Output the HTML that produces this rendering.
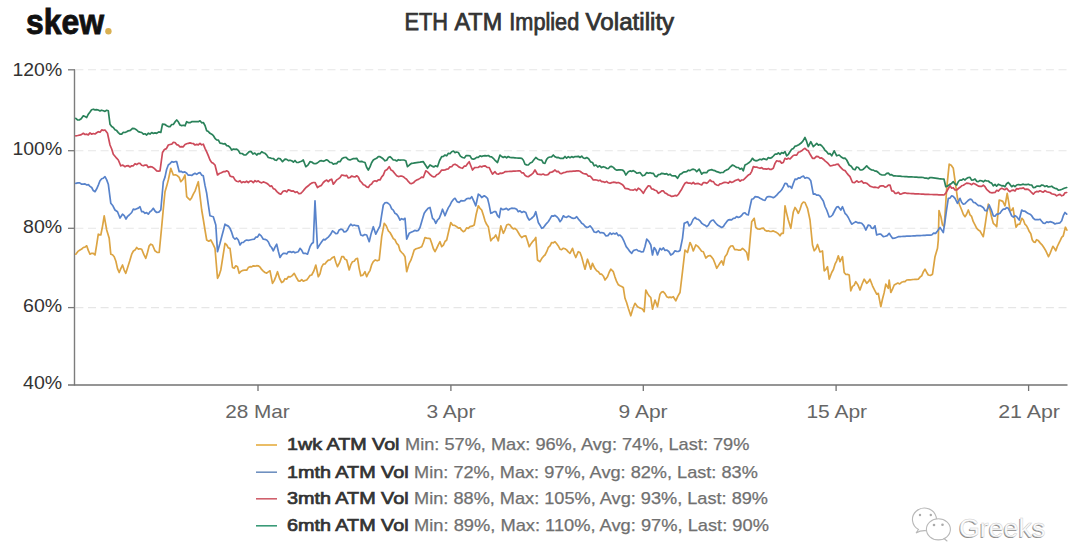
<!DOCTYPE html><html><head><meta charset="utf-8"><style>html,body{margin:0;padding:0;background:#fff;width:1080px;height:543px;overflow:hidden}svg{display:block}text{font-family:"Liberation Sans",sans-serif}</style></head><body>
<svg width="1080" height="543" viewBox="0 0 1080 543">
<rect width="1080" height="543" fill="#fff"/>
<text x="26" y="34" font-size="35" font-weight="700" fill="#111" stroke="#111" stroke-width="0.9" textLength="78" lengthAdjust="spacingAndGlyphs">skew</text>
<circle cx="108.4" cy="31.3" r="3.2" fill="#d9b052"/>
<text x="404.5" y="30" font-size="23" font-weight="400" fill="#333" stroke="#333" stroke-width="0.75" textLength="43.5" lengthAdjust="spacingAndGlyphs">ETH</text>
<text x="454.5" y="30" font-size="23" font-weight="400" fill="#333" stroke="#333" stroke-width="0.75" textLength="47.6" lengthAdjust="spacingAndGlyphs">ATM</text>
<text x="509.3" y="30" font-size="23" font-weight="400" fill="#333" stroke="#333" stroke-width="0.75" textLength="69.9" lengthAdjust="spacingAndGlyphs">Implied</text>
<text x="585.6" y="30" font-size="23" font-weight="400" fill="#333" stroke="#333" stroke-width="0.75" textLength="88.6" lengthAdjust="spacingAndGlyphs">Volatility</text>
<line x1="75" y1="69.8" x2="1067.5" y2="69.8" stroke="#e6e6e6" stroke-width="1.1" stroke-dasharray="8,4.604" stroke-dashoffset="12.2"/>
<line x1="68" y1="69.8" x2="75" y2="69.8" stroke="#7a7a7a" stroke-width="1.3"/>
<line x1="75" y1="150.7" x2="1067.5" y2="150.7" stroke="#e6e6e6" stroke-width="1.1" stroke-dasharray="8,4.604" stroke-dashoffset="12.2"/>
<line x1="68" y1="150.7" x2="75" y2="150.7" stroke="#7a7a7a" stroke-width="1.3"/>
<line x1="75" y1="228.3" x2="1067.5" y2="228.3" stroke="#e6e6e6" stroke-width="1.1" stroke-dasharray="8,4.604" stroke-dashoffset="12.2"/>
<line x1="68" y1="228.3" x2="75" y2="228.3" stroke="#7a7a7a" stroke-width="1.3"/>
<line x1="75" y1="307.6" x2="1067.5" y2="307.6" stroke="#e6e6e6" stroke-width="1.1" stroke-dasharray="8,4.604" stroke-dashoffset="12.2"/>
<line x1="68" y1="307.6" x2="75" y2="307.6" stroke="#7a7a7a" stroke-width="1.3"/>
<line x1="74.5" y1="69.5" x2="74.5" y2="385.5" stroke="#7c7c7c" stroke-width="1.4"/>
<line x1="68" y1="385" x2="1067.5" y2="385" stroke="#727272" stroke-width="1.5"/>
<line x1="258" y1="385" x2="258" y2="391" stroke="#727272" stroke-width="1.3"/>
<text x="225.2" y="417.8" font-size="18.5" fill="#666" textLength="64.6" lengthAdjust="spacingAndGlyphs">28 Mar</text>
<line x1="450.9" y1="385" x2="450.9" y2="391" stroke="#727272" stroke-width="1.3"/>
<text x="426.4" y="417.8" font-size="18.5" fill="#666" textLength="49.0" lengthAdjust="spacingAndGlyphs">3 Apr</text>
<line x1="643.3" y1="385" x2="643.3" y2="391" stroke="#727272" stroke-width="1.3"/>
<text x="618.6" y="417.8" font-size="18.5" fill="#666" textLength="49.0" lengthAdjust="spacingAndGlyphs">9 Apr</text>
<line x1="836.1" y1="385" x2="836.1" y2="391" stroke="#727272" stroke-width="1.3"/>
<text x="806.4" y="417.8" font-size="18.5" fill="#666" textLength="60.7" lengthAdjust="spacingAndGlyphs">15 Apr</text>
<line x1="1028.6" y1="385" x2="1028.6" y2="391" stroke="#727272" stroke-width="1.3"/>
<text x="998.2" y="417.8" font-size="18.5" fill="#666" textLength="61.8" lengthAdjust="spacingAndGlyphs">21 Apr</text>
<text x="12.5" y="75.8" font-size="18.3" fill="#333" textLength="49.7" lengthAdjust="spacingAndGlyphs">120%</text>
<text x="12.5" y="155.0" font-size="18.3" fill="#333" textLength="49.7" lengthAdjust="spacingAndGlyphs">100%</text>
<text x="23.1" y="232.6" font-size="18.3" fill="#333" textLength="39.1" lengthAdjust="spacingAndGlyphs">80%</text>
<text x="23.1" y="311.6" font-size="18.3" fill="#333" textLength="39.1" lengthAdjust="spacingAndGlyphs">60%</text>
<text x="23.1" y="389.2" font-size="18.3" fill="#333" textLength="39.1" lengthAdjust="spacingAndGlyphs">40%</text>
<path d="M75.8 254.2 L77.9 251.4 L80.0 250.0 L81.7 249.1 L83.3 247.5 L85.0 247.1 L86.7 245.8 L88.3 250.4 L90.0 254.2 L91.7 253.3 L93.3 253.4 L95.0 255.0 L96.7 244.6 L98.3 234.2 L100.8 235.0 L102.5 226.3 L104.2 215.8 L106.7 230.0 L109.2 238.3 L110.8 254.2 L112.5 254.8 L114.2 256.7 L115.9 261.2 L117.5 268.6 L119.2 272.5 L120.8 268.7 L122.5 265.0 L124.2 270.1 L125.8 273.3 L127.8 266.9 L129.7 261.0 L131.7 254.2 L133.4 251.0 L135.0 250.1 L136.7 247.5 L138.4 249.1 L140.0 248.7 L141.7 249.2 L143.8 254.4 L145.8 258.3 L147.5 252.5 L149.2 245.8 L150.8 244.2 L152.5 245.0 L155.0 250.8 L157.1 252.4 L159.2 252.5 L161.7 226.7 L163.3 209.2 L165.0 191.7 L166.7 186.1 L168.3 180.0 L170.8 168.3 L173.3 175.0 L175.4 174.8 L177.5 175.8 L179.2 177.4 L180.8 181.7 L182.9 179.4 L185.0 175.0 L186.7 196.7 L188.3 198.3 L190.0 200.0 L191.7 197.7 L193.3 194.2 L195.0 191.1 L196.6 186.5 L198.3 181.7 L200.0 195.8 L201.7 210.0 L203.4 220.0 L205.0 230.0 L206.7 240.0 L208.8 241.2 L210.8 240.0 L212.9 243.9 L215.0 248.3 L217.5 278.3 L219.2 275.0 L220.8 270.0 L222.9 256.6 L225.0 243.3 L226.7 244.8 L228.3 247.9 L230.0 248.3 L232.5 267.5 L234.2 268.3 L235.8 265.8 L237.5 266.7 L239.2 273.3 L241.1 271.2 L243.1 270.3 L245.0 270.0 L246.7 270.2 L248.3 267.6 L250.0 266.7 L251.7 266.9 L253.3 265.8 L255.0 266.2 L256.6 265.7 L258.3 265.8 L260.0 267.1 L261.6 269.4 L263.3 271.1 L265.0 272.5 L266.7 273.1 L268.3 271.9 L270.0 270.8 L272.5 283.3 L274.2 280.6 L275.8 276.6 L277.5 271.7 L279.6 278.5 L281.7 282.5 L283.4 281.5 L285.0 278.7 L286.6 279.2 L288.3 276.7 L290.3 276.9 L292.2 275.6 L294.2 273.3 L296.2 277.2 L298.3 280.8 L300.0 281.2 L301.7 279.7 L303.3 281.2 L305.0 280.4 L306.7 280.0 L308.4 277.7 L310.0 275.4 L311.7 275.0 L313.8 271.0 L315.8 265.0 L318.3 276.7 L320.0 273.9 L321.6 267.2 L323.3 264.2 L325.0 264.0 L326.6 261.8 L328.3 260.1 L330.0 260.0 L332.1 257.8 L334.2 256.7 L335.9 262.5 L337.5 266.7 L339.6 262.7 L341.7 256.7 L343.4 256.5 L345.0 259.2 L346.7 260.0 L349.2 270.0 L350.9 264.6 L352.5 261.7 L354.2 261.2 L355.8 259.0 L357.5 258.3 L359.1 268.1 L360.8 275.8 L362.9 275.1 L365.0 271.7 L366.7 276.7 L368.4 273.0 L370.0 270.6 L371.6 264.9 L373.3 261.7 L375.3 259.9 L377.2 260.8 L379.2 260.0 L381.7 236.7 L384.2 223.3 L386.2 225.7 L388.3 230.8 L390.0 232.5 L391.7 235.5 L393.3 238.6 L395.0 239.8 L396.7 243.3 L398.4 245.1 L400.0 250.5 L401.7 252.5 L403.4 254.1 L405.0 256.7 L406.7 271.7 L409.2 263.3 L410.9 260.2 L412.5 255.5 L414.2 250.0 L416.1 248.8 L417.9 248.2 L419.8 247.6 L421.7 246.7 L423.4 242.5 L425.0 237.5 L426.7 238.1 L428.3 238.3 L430.0 238.5 L431.7 243.2 L433.3 248.5 L435.0 251.7 L436.7 248.4 L438.3 244.8 L440.0 241.7 L441.7 246.7 L443.4 245.1 L445.0 241.5 L446.7 240.0 L448.8 230.7 L450.8 222.5 L452.8 225.2 L454.7 225.4 L456.7 226.7 L458.4 228.1 L460.0 227.8 L461.6 230.2 L463.3 231.7 L465.0 230.7 L466.6 227.9 L468.3 228.3 L470.0 226.7 L472.1 226.2 L474.2 225.0 L476.2 214.2 L478.3 205.8 L480.0 208.3 L481.7 210.0 L483.4 215.3 L485.0 220.8 L486.6 224.3 L488.3 226.7 L490.8 240.8 L492.5 238.5 L494.1 237.5 L495.8 235.0 L498.3 240.8 L500.8 225.8 L503.3 233.3 L505.0 229.8 L506.7 225.0 L508.4 224.3 L510.0 225.1 L511.7 227.5 L513.3 228.9 L515.0 228.3 L516.7 229.9 L518.4 232.8 L520.0 235.5 L521.7 237.5 L523.8 236.1 L525.8 235.8 L527.5 240.9 L529.2 246.7 L530.9 243.9 L532.5 241.7 L534.1 240.1 L535.8 237.5 L537.5 260.0 L540.0 261.7 L541.7 258.6 L543.4 256.4 L545.0 255.0 L546.7 251.7 L548.4 247.3 L550.0 245.8 L551.7 242.5 L553.4 242.8 L555.0 241.7 L556.7 243.7 L558.3 245.9 L560.0 249.2 L561.6 249.6 L563.3 248.3 L565.0 248.8 L566.6 249.9 L568.3 251.9 L570.0 253.3 L572.5 248.3 L574.1 253.5 L575.8 257.5 L578.3 251.7 L580.0 252.5 L581.7 257.0 L583.3 263.1 L585.0 269.2 L587.5 259.2 L589.1 263.7 L590.8 269.2 L592.5 263.3 L594.6 268.0 L596.7 270.8 L598.4 271.8 L600.0 274.1 L601.7 274.2 L603.4 276.2 L605.0 280.0 L607.5 276.7 L609.1 272.5 L610.8 269.2 L613.3 271.7 L615.0 277.1 L616.7 281.7 L618.4 284.8 L620.0 285.8 L621.6 286.5 L623.3 287.5 L625.0 298.3 L626.6 302.5 L628.3 308.3 L630.8 315.8 L632.9 308.5 L635.0 303.3 L637.5 306.7 L639.1 307.6 L640.8 308.3 L642.5 309.1 L644.2 311.7 L645.8 290.0 L647.5 293.4 L649.1 295.9 L650.8 297.5 L652.5 309.2 L655.0 300.0 L657.5 306.7 L660.0 294.2 L661.6 292.1 L663.3 291.7 L665.0 293.6 L666.7 296.7 L668.4 297.6 L670.0 297.1 L671.6 297.6 L673.3 296.7 L675.8 300.8 L677.9 296.2 L680.0 292.5 L682.5 271.7 L685.0 250.0 L687.5 252.5 L690.0 242.5 L691.6 245.7 L693.3 251.0 L695.8 245.0 L697.9 246.4 L700.0 249.0 L701.6 251.2 L703.3 251.7 L705.8 258.0 L707.9 256.1 L710.0 255.5 L711.6 256.9 L713.3 259.2 L715.0 263.5 L716.7 268.3 L718.4 265.6 L720.0 263.0 L721.7 260.8 L723.3 265.0 L725.0 256.7 L726.9 254.3 L728.9 248.6 L730.8 246.0 L732.8 245.8 L734.7 249.6 L736.7 249.5 L738.6 250.2 L740.6 250.1 L742.5 248.3 L744.6 250.2 L746.7 252.5 L748.3 260.0 L750.0 240.8 L751.7 221.7 L754.2 218.3 L755.8 227.5 L757.8 229.0 L759.7 229.2 L761.7 228.3 L763.4 228.1 L765.0 230.2 L766.6 231.1 L768.3 230.8 L770.0 231.5 L771.6 231.3 L773.3 230.9 L775.0 231.7 L776.7 232.6 L778.3 233.7 L780.0 235.8 L781.6 233.3 L783.3 233.3 L785.0 205.8 L786.6 213.1 L788.3 220.0 L790.8 228.3 L793.3 212.0 L795.0 207.5 L796.6 209.8 L798.3 213.3 L800.0 209.5 L801.7 204.0 L803.4 202.0 L805.0 202.5 L807.5 208.3 L810.0 220.0 L812.5 245.0 L814.2 250.8 L815.9 248.8 L817.5 244.5 L820.0 252.0 L822.5 251.0 L824.2 270.8 L825.9 269.3 L827.5 266.7 L829.2 279.2 L831.7 272.5 L833.4 269.5 L835.0 264.2 L836.6 261.1 L838.3 255.8 L840.0 261.7 L842.5 256.7 L844.2 272.5 L845.9 274.5 L847.5 274.4 L849.2 275.0 L850.8 290.8 L852.5 286.4 L854.1 285.4 L855.8 281.7 L857.9 284.9 L860.0 290.0 L862.1 284.0 L864.2 279.2 L866.7 283.3 L868.4 281.7 L870.0 279.2 L872.5 285.8 L874.6 290.1 L876.7 294.2 L878.3 293.3 L880.8 306.7 L882.5 299.0 L884.1 292.9 L885.8 284.2 L888.3 288.3 L889.2 280.0 L890.8 292.5 L892.5 289.1 L894.2 285.0 L896.0 283.9 L897.8 283.0 L899.7 284.0 L901.5 282.3 L903.3 281.7 L905.0 281.6 L906.7 280.0 L908.4 279.9 L910.0 279.8 L911.7 279.7 L913.3 279.5 L915.0 279.4 L916.6 279.3 L918.3 279.2 L920.0 277.1 L921.7 275.8 L923.4 271.7 L925.0 269.2 L926.6 272.2 L928.3 275.0 L930.4 275.5 L932.5 274.2 L935.0 256.7 L937.5 248.3 L938.3 240.0 L939.0 210.5 L941.0 217.0 L942.5 225.0 L944.2 226.7 L946.7 188.3 L949.2 164.2 L951.2 165.3 L953.3 168.3 L955.4 183.3 L957.5 198.3 L959.6 205.0 L961.7 210.0 L963.4 214.5 L965.0 216.7 L966.6 214.2 L968.3 210.0 L970.0 214.8 L971.6 216.4 L973.3 221.7 L975.0 224.8 L976.6 228.2 L978.3 230.0 L980.0 231.0 L981.6 233.8 L983.3 236.7 L985.0 225.9 L986.6 215.0 L988.3 204.2 L990.0 209.9 L991.6 217.0 L993.3 223.3 L995.0 224.8 L996.7 226.7 L999.2 200.0 L1001.0 200.6 L1002.8 201.4 L1005.0 205.8 L1007.2 193.3 L1008.7 202.2 L1010.1 211.0 L1011.6 210.3 L1013.1 208.0 L1014.5 217.6 L1016.0 227.2 L1017.9 224.3 L1019.7 224.2 L1021.9 218.3 L1023.4 220.0 L1024.9 224.2 L1026.4 225.6 L1027.8 228.1 L1029.3 231.6 L1030.8 233.8 L1032.2 239.8 L1033.7 241.9 L1035.2 242.4 L1036.6 239.7 L1038.1 240.4 L1040.1 242.9 L1042.0 244.8 L1044.0 247.8 L1045.5 250.2 L1047.0 253.3 L1048.5 256.7 L1050.0 253.6 L1051.4 250.0 L1052.9 246.3 L1054.3 248.2 L1055.8 250.8 L1057.3 246.5 L1058.8 243.4 L1060.3 240.4 L1061.8 237.1 L1063.2 236.0 L1065.4 227.2 L1066.9 230.1" fill="none" stroke="#dca443" stroke-width="1.7" stroke-linejoin="round" stroke-linecap="round"/>
<path d="M75.8 183.3 L77.8 182.9 L79.7 182.9 L81.7 184.2 L83.4 184.2 L85.0 183.9 L86.7 185.0 L88.4 184.7 L90.0 186.4 L91.7 187.5 L93.3 190.6 L95.0 191.7 L96.7 188.8 L98.3 185.1 L100.0 180.8 L101.7 178.7 L103.3 178.2 L105.0 176.7 L106.7 179.9 L108.3 184.2 L110.8 203.3 L112.9 205.8 L115.0 210.0 L117.5 211.7 L120.0 218.0 L122.5 214.2 L124.2 215.6 L126.0 219.0 L127.6 216.3 L129.2 215.0 L131.7 212.5 L133.3 209.2 L135.0 209.6 L136.7 208.8 L138.3 208.1 L140.0 206.7 L141.7 211.7 L143.3 211.7 L145.0 213.3 L146.6 212.6 L148.3 214.2 L150.0 211.8 L151.6 210.6 L153.3 208.3 L155.0 211.0 L156.7 212.5 L158.8 212.1 L160.8 210.0 L163.3 181.7 L165.0 177.1 L166.6 169.5 L168.3 165.0 L170.0 163.6 L171.7 161.7 L173.4 162.1 L175.0 161.7 L176.7 161.7 L179.2 171.7 L181.1 171.3 L182.9 172.4 L184.8 171.9 L186.7 173.3 L188.3 175.2 L190.0 175.0 L191.7 175.5 L193.3 174.3 L195.0 173.3 L196.7 174.4 L198.3 173.1 L200.0 172.5 L201.7 175.1 L203.3 175.8 L205.0 185.4 L206.7 193.3 L208.3 204.6 L210.0 215.8 L211.7 216.3 L213.3 216.7 L215.8 225.0 L217.5 251.7 L220.0 243.3 L221.7 236.7 L223.3 230.8 L225.0 224.2 L226.7 225.4 L228.3 226.1 L230.0 228.3 L231.7 232.4 L233.3 237.5 L235.0 239.1 L236.6 238.0 L238.3 240.0 L240.0 245.0 L241.7 242.5 L243.3 242.5 L245.0 240.8 L246.7 240.0 L248.3 240.4 L250.0 240.0 L252.1 239.5 L254.2 239.2 L255.9 237.1 L257.5 237.1 L259.2 234.2 L261.2 235.9 L263.3 239.2 L265.0 239.4 L266.7 240.0 L268.4 242.0 L270.0 245.7 L271.6 247.5 L273.3 250.8 L275.0 247.1 L276.7 244.2 L278.4 251.5 L280.0 257.5 L281.6 255.0 L283.3 253.3 L285.0 253.3 L286.7 254.0 L288.3 251.8 L290.0 251.6 L291.7 252.5 L293.4 251.6 L295.0 252.8 L296.6 252.2 L298.3 251.7 L300.0 248.3 L301.6 250.1 L303.3 253.3 L305.4 253.3 L307.5 254.2 L310.0 246.7 L311.6 243.8 L313.3 242.5 L315.0 200.8 L317.5 248.3 L319.6 244.9 L321.7 241.7 L323.4 239.4 L325.0 239.9 L326.7 238.3 L328.6 236.8 L330.6 234.4 L332.5 230.8 L334.2 232.2 L335.8 233.6 L337.5 233.3 L339.1 230.0 L340.8 229.2 L342.5 229.5 L344.1 232.0 L345.8 231.7 L347.5 229.9 L349.1 226.5 L350.8 224.2 L352.5 225.7 L354.2 225.0 L356.2 225.7 L358.3 225.8 L360.8 235.0 L362.8 235.8 L364.7 234.5 L366.7 235.0 L369.2 241.7 L371.2 233.4 L373.3 226.7 L375.8 234.2 L377.9 229.9 L380.0 225.8 L381.6 215.4 L383.3 205.0 L385.0 202.8 L386.7 202.5 L388.4 203.5 L390.0 205.0 L391.7 208.9 L393.3 210.1 L395.0 213.3 L396.7 214.3 L398.3 216.6 L400.0 220.0 L401.7 218.6 L403.3 219.6 L405.0 218.3 L406.7 239.2 L409.2 233.3 L411.1 232.3 L412.9 231.5 L414.8 230.4 L416.7 230.8 L418.4 230.4 L420.0 227.5 L422.1 220.2 L424.2 213.3 L426.1 210.6 L428.1 208.3 L430.0 207.5 L432.5 218.3 L434.1 219.7 L435.8 223.3 L437.5 220.0 L439.2 218.3 L440.9 214.2 L442.5 209.2 L445.0 215.8 L446.7 211.4 L448.4 207.6 L450.0 205.2 L451.7 201.7 L453.4 199.4 L455.0 198.3 L457.1 201.6 L459.2 202.5 L461.0 200.7 L462.8 200.9 L464.7 200.7 L466.5 198.9 L468.3 198.3 L470.0 198.7 L471.7 196.7 L473.8 201.2 L475.8 205.8 L478.3 194.2 L480.0 195.2 L481.7 197.5 L484.2 195.8 L485.9 196.8 L487.5 198.3 L489.1 204.6 L490.8 213.3 L492.5 212.6 L494.1 211.6 L495.8 211.7 L497.5 215.6 L499.2 217.5 L500.8 208.3 L502.7 209.6 L504.6 209.1 L506.4 208.4 L508.3 210.0 L510.0 208.8 L511.6 208.2 L513.3 208.3 L515.0 208.4 L516.7 209.3 L518.3 211.7 L520.0 210.8 L521.7 212.5 L523.8 211.4 L525.8 212.5 L527.5 217.3 L529.2 220.0 L530.9 218.9 L532.5 217.5 L534.1 215.8 L535.8 211.7 L538.3 222.5 L540.0 225.2 L541.7 228.3 L543.4 227.6 L545.0 225.4 L546.7 223.3 L548.4 221.5 L550.0 218.9 L551.7 215.8 L553.4 216.1 L555.0 215.4 L556.7 216.7 L558.4 218.5 L560.0 221.7 L561.6 219.7 L563.3 215.8 L565.0 217.0 L566.6 217.3 L568.3 216.1 L570.0 216.7 L571.6 217.9 L573.3 218.3 L575.0 218.2 L576.7 216.7 L578.4 219.1 L580.0 220.8 L581.7 223.3 L583.4 224.2 L585.0 226.2 L586.7 227.5 L588.4 227.1 L590.0 225.8 L592.1 228.3 L594.2 232.0 L596.2 232.5 L598.3 230.8 L600.0 232.8 L601.7 232.5 L603.8 233.1 L605.8 235.8 L607.9 235.6 L610.0 233.0 L611.6 234.3 L613.3 233.3 L615.0 234.1 L616.6 233.0 L618.3 235.6 L620.0 235.0 L622.1 237.4 L624.2 241.7 L626.2 246.6 L628.3 249.2 L630.0 251.7 L631.7 253.3 L633.4 250.6 L635.0 250.0 L636.7 249.5 L638.3 251.0 L640.0 251.2 L641.6 252.0 L643.3 251.7 L645.0 246.5 L646.7 239.2 L648.8 241.4 L650.8 245.0 L652.5 255.0 L654.2 247.5 L655.9 250.0 L657.5 255.0 L660.0 248.3 L661.7 249.8 L663.4 247.9 L665.0 250.5 L666.7 250.0 L668.8 251.5 L670.8 255.0 L672.9 253.7 L675.0 250.8 L676.7 251.4 L678.3 251.5 L680.0 250.5 L682.5 238.3 L684.2 223.3 L685.9 222.6 L687.5 221.7 L689.2 225.8 L691.1 224.0 L693.1 219.5 L695.0 217.5 L696.7 219.0 L698.3 219.3 L700.0 220.8 L701.7 223.3 L703.4 224.4 L705.0 225.2 L706.7 226.7 L708.4 225.1 L710.0 222.2 L711.6 220.5 L713.3 220.0 L715.4 222.7 L717.5 225.0 L719.6 226.2 L721.7 227.5 L723.4 226.5 L725.0 223.9 L726.7 221.7 L728.4 219.9 L730.0 219.7 L731.6 219.8 L733.3 218.3 L735.0 218.1 L736.6 216.5 L738.3 217.5 L740.0 216.9 L741.6 215.5 L743.3 213.3 L745.0 212.8 L746.6 214.5 L748.3 215.0 L750.0 206.8 L751.7 199.2 L753.4 198.7 L755.0 196.7 L756.7 196.8 L758.3 197.1 L760.0 198.3 L761.6 199.1 L763.3 200.0 L765.0 200.3 L766.6 197.3 L768.3 196.6 L770.0 196.7 L771.7 197.0 L773.3 197.7 L775.0 196.7 L776.7 195.1 L778.3 193.2 L780.0 191.7 L781.7 189.8 L783.3 186.8 L785.0 183.3 L786.7 183.5 L788.4 186.8 L790.0 186.3 L791.7 188.3 L793.4 183.3 L795.0 179.2 L796.7 179.4 L798.4 177.8 L800.0 178.1 L801.7 176.7 L803.4 176.1 L805.0 178.2 L806.7 177.5 L808.8 178.3 L810.8 180.8 L813.3 194.2 L815.0 193.8 L816.6 195.1 L818.3 195.1 L820.0 196.0 L821.6 198.6 L823.3 201.0 L825.0 206.5 L826.7 210.0 L829.2 217.0 L830.9 216.5 L832.5 215.0 L835.0 210.0 L836.6 207.1 L838.3 206.7 L840.8 210.0 L842.5 206.7 L845.0 213.3 L846.6 214.9 L848.3 217.5 L850.0 221.0 L851.7 224.2 L853.8 222.9 L855.8 221.7 L857.8 222.8 L859.7 222.7 L861.7 223.3 L863.8 225.6 L865.8 230.0 L868.3 225.0 L870.0 225.5 L871.6 228.1 L873.3 228.3 L875.0 225.8 L876.7 235.0 L878.8 234.2 L880.8 234.2 L883.3 236.7 L885.3 236.2 L887.2 235.6 L889.2 233.3 L890.9 236.1 L892.5 238.3 L894.4 238.2 L896.4 237.5 L898.3 236.7 L900.0 236.6 L901.6 236.5 L903.3 236.4 L905.0 236.3 L906.6 236.2 L908.3 236.2 L910.0 236.1 L911.7 236.0 L913.3 235.9 L915.0 235.8 L916.7 235.7 L918.3 235.6 L920.0 235.6 L921.7 235.5 L923.4 235.4 L925.0 235.3 L926.7 235.2 L928.4 235.2 L930.0 235.1 L931.7 235.0 L933.6 233.2 L935.6 233.4 L937.5 231.0 L940.0 227.5 L941.6 229.9 L943.3 232.5 L945.0 221.1 L946.6 209.7 L948.3 198.3 L950.0 198.1 L951.7 195.8 L953.4 196.6 L955.0 198.3 L957.5 203.3 L960.0 198.3 L961.6 202.2 L963.3 204.2 L965.0 203.7 L966.6 202.0 L968.3 200.3 L970.0 199.2 L971.7 199.6 L973.4 202.4 L975.0 202.6 L976.7 204.2 L978.4 205.7 L980.0 205.5 L981.7 206.5 L983.4 207.7 L985.0 210.5 L986.7 210.8 L989.2 205.0 L991.2 209.6 L993.3 215.8 L995.0 216.2 L996.6 214.2 L998.3 214.1 L1000.0 213.3 L1001.6 210.9 L1003.3 209.2 L1005.0 209.2 L1006.6 207.6 L1008.3 208.3 L1010.0 211.8 L1011.7 215.8 L1013.4 217.2 L1015.0 215.6 L1016.7 216.7 L1019.2 220.0 L1021.7 210.0 L1023.4 211.2 L1025.0 211.2 L1026.7 212.5 L1028.3 213.5 L1030.0 214.2 L1031.7 215.7 L1033.3 218.3 L1035.0 219.6 L1036.7 219.6 L1038.3 219.7 L1040.0 219.2 L1041.7 221.3 L1043.3 223.1 L1045.0 223.3 L1046.7 221.9 L1048.3 222.4 L1050.0 221.7 L1051.7 222.1 L1053.3 222.7 L1055.0 224.0 L1056.7 223.3 L1058.4 223.1 L1060.0 222.8 L1061.7 220.8 L1063.3 215.7 L1065.0 212.5 L1066.7 214.2" fill="none" stroke="#5883cb" stroke-width="1.7" stroke-linejoin="round" stroke-linecap="round"/>
<path d="M75.8 135.8 L77.7 135.5 L79.5 135.1 L81.4 134.6 L83.3 133.3 L85.0 134.5 L86.7 134.2 L88.3 134.9 L90.0 132.9 L91.7 134.2 L93.3 133.5 L95.0 134.0 L96.7 132.7 L98.3 131.7 L100.0 132.2 L101.7 129.9 L103.3 130.4 L105.0 130.0 L107.5 133.3 L110.0 145.0 L111.7 149.0 L113.3 154.2 L115.0 156.2 L116.6 158.2 L118.3 160.0 L120.8 165.8 L122.9 165.1 L125.0 166.7 L126.7 165.8 L128.3 165.7 L130.0 167.0 L131.7 165.8 L133.3 165.8 L135.0 163.7 L136.7 164.6 L138.3 163.3 L140.0 163.3 L141.6 165.2 L143.3 165.8 L145.0 165.1 L146.7 165.1 L148.3 167.4 L150.0 166.7 L151.7 166.8 L153.3 167.7 L155.0 169.2 L156.7 170.9 L158.3 171.2 L160.0 170.8 L162.5 152.5 L164.4 149.5 L166.4 148.6 L168.3 145.0 L170.0 144.5 L171.7 144.2 L173.3 142.4 L175.0 142.5 L176.7 144.6 L178.3 145.1 L180.0 146.8 L181.7 146.7 L183.3 146.8 L185.0 144.5 L186.7 143.8 L188.3 143.3 L190.0 142.9 L191.7 143.3 L193.3 143.5 L195.0 145.0 L196.7 144.4 L198.3 144.9 L200.0 143.3 L201.6 144.8 L203.3 144.2 L205.0 148.3 L206.7 151.8 L208.3 155.6 L210.0 160.0 L211.7 162.4 L213.3 163.3 L215.0 165.0 L217.5 175.0 L219.4 173.5 L221.4 172.8 L223.3 171.7 L225.0 171.7 L226.7 170.8 L228.4 171.7 L230.0 175.9 L231.7 176.7 L233.3 176.8 L235.0 179.8 L236.7 181.3 L238.3 181.7 L240.0 180.7 L241.6 182.7 L243.3 181.8 L245.0 182.4 L246.6 181.2 L248.3 182.5 L250.0 181.1 L251.6 181.2 L253.3 182.7 L255.0 180.6 L256.6 181.7 L258.3 180.8 L260.0 182.3 L261.7 182.9 L263.3 181.9 L265.0 182.5 L266.7 183.3 L268.4 184.5 L270.0 186.3 L271.7 185.9 L273.3 188.6 L275.0 189.2 L276.9 191.6 L278.9 193.4 L280.8 194.2 L282.9 191.4 L285.0 190.8 L286.7 191.9 L288.3 189.8 L290.0 190.4 L291.6 191.1 L293.3 190.8 L295.2 192.4 L297.1 191.7 L298.9 193.7 L300.8 193.3 L302.7 191.5 L304.6 189.1 L306.4 187.2 L308.3 185.8 L310.0 184.2 L311.6 183.1 L313.3 182.5 L315.0 182.5 L317.5 187.5 L319.4 186.3 L321.4 185.4 L323.3 182.5 L325.0 181.0 L326.7 180.1 L328.3 181.7 L330.0 179.9 L331.7 179.2 L333.3 184.2 L335.0 182.1 L336.7 179.9 L338.3 178.9 L340.0 177.6 L341.7 175.0 L343.4 175.4 L345.0 175.8 L346.7 175.4 L348.3 178.0 L350.0 177.5 L351.7 176.0 L353.4 176.6 L355.0 177.0 L356.7 175.8 L358.4 177.1 L360.0 180.8 L361.7 182.5 L363.4 184.8 L365.0 185.3 L366.6 186.9 L368.3 187.5 L370.0 184.9 L371.6 184.0 L373.3 181.6 L375.0 180.8 L376.7 181.4 L378.3 179.8 L380.0 180.0 L381.7 176.8 L383.3 175.1 L385.0 170.8 L387.1 169.6 L389.2 166.7 L391.1 170.1 L392.9 171.1 L394.8 173.5 L396.7 175.8 L398.4 176.6 L400.0 176.2 L401.6 176.0 L403.3 176.7 L405.0 178.1 L406.6 179.2 L408.3 181.4 L410.0 183.3 L411.7 183.6 L413.4 182.8 L415.0 181.1 L416.7 180.0 L418.4 179.4 L420.0 178.4 L421.6 177.1 L423.3 177.5 L425.8 170.8 L427.9 172.1 L430.0 174.5 L431.7 175.9 L433.3 176.8 L435.0 176.7 L436.7 174.7 L438.4 174.0 L440.0 172.3 L441.7 170.0 L443.4 170.2 L445.0 169.9 L446.7 169.2 L448.4 168.8 L450.0 166.9 L451.7 166.7 L453.3 164.7 L455.0 164.2 L456.9 165.2 L458.8 166.9 L460.6 167.7 L462.5 168.3 L464.2 166.2 L465.9 166.1 L467.5 163.7 L469.2 161.7 L470.9 166.0 L472.5 170.0 L474.6 167.6 L476.7 167.5 L478.4 167.3 L480.0 166.2 L481.7 166.9 L483.3 166.1 L485.0 165.8 L487.1 167.4 L489.2 167.5 L490.9 171.2 L492.5 174.2 L495.0 171.7 L496.6 173.7 L498.3 174.2 L500.0 173.2 L501.6 173.3 L503.3 172.9 L505.0 171.7 L506.7 171.6 L508.3 171.5 L510.0 171.4 L511.7 171.3 L513.3 171.2 L515.0 171.1 L516.7 171.0 L518.3 170.9 L520.0 170.8 L521.7 172.8 L523.3 172.8 L525.0 175.2 L526.6 176.4 L528.3 176.7 L530.0 175.5 L531.6 174.5 L533.3 172.8 L535.0 170.0 L537.5 174.2 L539.4 174.4 L541.2 174.7 L543.1 174.0 L545.0 175.0 L546.7 175.0 L548.3 174.4 L550.0 172.4 L551.7 172.1 L553.3 171.4 L555.0 170.0 L556.7 171.7 L558.3 171.4 L560.0 173.3 L561.7 173.6 L563.4 172.7 L565.0 172.5 L566.7 171.7 L568.4 171.6 L570.0 171.4 L571.7 171.3 L573.3 171.2 L575.0 171.1 L576.6 170.9 L578.3 170.8 L580.0 171.3 L581.7 172.5 L583.3 173.5 L585.0 173.8 L586.7 174.2 L588.4 176.2 L590.0 176.0 L591.6 177.7 L593.3 180.0 L595.0 179.9 L596.7 180.0 L598.4 180.8 L600.0 180.2 L601.6 181.7 L603.3 181.7 L605.0 182.4 L606.6 181.4 L608.3 182.8 L610.0 183.3 L611.7 182.6 L613.3 182.2 L615.0 182.4 L616.7 182.9 L618.3 182.5 L620.0 183.3 L621.7 184.2 L623.3 185.5 L625.0 188.3 L626.7 188.6 L628.4 188.9 L630.0 189.8 L631.7 190.0 L633.4 190.1 L635.0 189.1 L636.7 190.5 L638.3 188.2 L640.0 189.2 L641.6 191.0 L643.3 193.3 L645.0 190.3 L646.6 188.1 L648.3 185.8 L650.0 186.0 L651.6 188.9 L653.3 189.2 L655.0 190.3 L656.6 190.8 L658.3 193.3 L660.0 192.3 L661.7 190.8 L663.4 190.9 L665.0 193.0 L666.6 193.6 L668.3 195.0 L670.0 195.4 L671.7 196.4 L673.3 196.2 L675.0 195.4 L676.7 195.8 L678.4 194.4 L680.0 191.7 L681.7 189.2 L683.4 185.9 L685.0 183.3 L686.7 182.3 L688.3 183.2 L690.0 183.0 L691.6 183.8 L693.3 182.5 L695.0 184.0 L696.6 183.6 L698.3 183.4 L700.0 184.2 L701.7 184.9 L703.4 182.6 L705.0 182.6 L706.7 183.3 L708.4 181.8 L710.0 180.0 L711.7 181.5 L713.4 181.6 L715.0 184.1 L716.7 185.0 L718.4 185.5 L720.0 183.9 L721.7 183.6 L723.4 182.7 L725.0 182.4 L726.7 182.5 L728.4 183.2 L730.0 181.4 L731.7 182.4 L733.4 181.8 L735.0 180.6 L736.7 180.0 L738.4 179.4 L740.0 181.2 L741.6 180.0 L743.3 180.0 L745.0 178.3 L746.7 176.7 L748.3 175.1 L750.0 174.2 L751.6 171.6 L753.3 166.7 L755.0 167.1 L756.6 167.0 L758.3 167.8 L760.0 168.3 L761.7 167.6 L763.4 169.0 L765.0 168.8 L766.7 169.2 L768.4 168.5 L770.0 169.4 L771.6 169.3 L773.3 168.3 L775.0 163.4 L776.7 160.8 L778.4 161.3 L780.0 161.1 L781.6 163.1 L783.3 162.5 L785.0 158.3 L786.7 159.2 L788.3 158.2 L790.0 159.0 L791.7 157.1 L793.3 155.5 L795.0 155.0 L796.7 155.1 L798.3 152.3 L800.0 151.7 L801.7 150.8 L803.3 149.4 L805.0 148.3 L806.6 149.9 L808.3 150.8 L810.4 154.8 L812.5 158.3 L814.4 158.4 L816.4 156.3 L818.3 156.7 L820.0 158.2 L821.6 157.9 L823.3 159.2 L825.0 160.9 L826.6 162.1 L828.3 163.7 L830.0 165.8 L831.7 165.6 L833.3 165.2 L835.0 165.0 L836.6 164.3 L838.3 164.2 L840.0 166.7 L841.6 168.3 L843.3 170.0 L845.0 170.6 L846.6 172.8 L848.3 174.9 L850.0 176.7 L852.5 182.5 L854.6 182.6 L856.7 180.8 L858.4 182.1 L860.0 181.7 L861.7 180.9 L863.4 183.1 L865.0 182.7 L866.7 183.3 L868.4 184.6 L870.0 186.1 L871.7 186.7 L873.4 187.3 L875.0 187.2 L876.7 187.5 L878.4 187.9 L880.0 186.1 L881.7 185.8 L883.4 185.8 L885.0 187.2 L886.7 186.7 L888.4 185.1 L890.0 185.0 L891.7 190.8 L893.4 191.1 L895.0 193.3 L896.7 193.3 L898.4 192.3 L900.0 194.1 L901.7 193.8 L903.4 193.1 L905.0 192.8 L906.7 193.3 L908.4 193.4 L910.0 193.5 L911.7 193.6 L913.3 193.7 L915.0 193.8 L916.7 193.8 L918.3 193.9 L920.0 194.0 L921.6 194.1 L923.3 194.2 L925.0 194.3 L926.8 194.3 L928.5 194.4 L930.2 194.5 L931.9 194.5 L933.6 194.6 L935.4 194.7 L937.1 194.7 L938.8 194.8 L940.5 194.9 L942.3 194.9 L944.0 195.0 L945.8 193.2 L947.5 190.0 L950.0 185.8 L951.7 188.2 L953.3 187.7 L955.0 190.0 L956.7 190.0 L958.4 188.5 L960.0 187.3 L961.7 185.8 L963.4 185.2 L965.0 184.1 L966.6 183.1 L968.3 183.3 L970.0 183.8 L971.7 184.7 L973.3 183.3 L975.0 184.0 L976.7 185.0 L978.4 186.1 L980.0 186.4 L981.7 186.4 L983.3 185.2 L985.0 186.7 L986.6 189.3 L988.3 190.8 L990.0 192.4 L991.6 192.8 L993.3 192.6 L995.0 192.5 L996.7 190.3 L998.3 191.1 L1000.0 189.2 L1001.7 188.3 L1003.4 189.1 L1005.0 189.6 L1006.7 188.3 L1008.4 190.5 L1010.0 191.7 L1011.7 190.3 L1013.3 190.1 L1015.0 191.0 L1016.7 188.6 L1018.3 189.1 L1020.0 188.3 L1021.7 188.3 L1023.4 187.9 L1025.0 189.3 L1026.7 189.2 L1028.3 189.4 L1030.0 190.8 L1031.7 192.7 L1033.3 194.2 L1035.0 192.3 L1036.7 191.4 L1038.3 191.8 L1040.0 190.8 L1041.7 191.6 L1043.3 192.2 L1045.0 190.6 L1046.7 191.7 L1048.3 192.2 L1050.0 192.5 L1051.7 193.8 L1053.3 194.2 L1055.0 194.5 L1056.7 195.9 L1058.3 194.9 L1060.0 194.4 L1061.7 195.8 L1063.4 195.2 L1065.0 192.8 L1066.7 192.5" fill="none" stroke="#cd4b5b" stroke-width="1.7" stroke-linejoin="round" stroke-linecap="round"/>
<path d="M75.8 118.3 L77.5 119.9 L79.2 120.0 L81.2 118.7 L83.3 115.8 L85.0 116.6 L86.7 117.5 L88.3 114.2 L90.0 112.0 L91.6 109.7 L93.3 109.2 L95.0 109.9 L96.6 109.7 L98.3 110.0 L100.0 110.9 L101.6 110.2 L103.3 110.8 L105.0 111.4 L106.6 110.3 L108.3 110.8 L110.0 124.2 L111.7 126.6 L113.3 127.5 L115.0 129.7 L116.7 130.6 L118.3 132.6 L120.0 134.2 L121.7 134.1 L123.3 132.3 L125.0 132.5 L126.7 131.8 L128.3 130.8 L130.4 130.3 L132.5 128.3 L134.6 128.6 L136.7 130.0 L138.4 131.6 L140.0 132.1 L141.7 132.5 L143.4 134.2 L145.0 133.8 L146.7 135.0 L148.4 133.2 L150.0 134.1 L151.7 132.5 L153.4 133.5 L155.0 132.9 L156.7 133.3 L158.8 131.9 L160.8 132.5 L162.5 124.2 L164.6 124.3 L166.7 125.8 L168.3 126.6 L170.0 126.7 L171.7 124.5 L173.3 124.4 L175.0 121.9 L176.7 120.0 L178.3 121.8 L180.0 125.0 L181.7 125.6 L183.3 125.2 L185.0 125.8 L186.7 121.7 L188.4 122.7 L190.0 122.7 L191.7 121.7 L193.4 121.6 L195.0 121.7 L196.7 121.6 L198.3 121.7 L200.0 120.8 L201.7 122.8 L203.3 122.5 L205.0 125.5 L206.7 130.8 L208.4 131.6 L210.0 133.3 L211.7 134.2 L213.4 135.7 L215.0 138.3 L216.7 140.0 L218.4 140.1 L220.0 143.1 L221.7 143.3 L223.3 144.0 L225.0 143.6 L226.7 145.6 L228.3 145.8 L230.0 147.4 L231.7 150.0 L233.4 149.0 L235.0 149.4 L236.7 149.2 L238.3 150.4 L240.0 153.3 L242.1 153.5 L244.2 155.0 L245.9 154.8 L247.5 153.3 L249.2 151.7 L251.1 151.4 L252.9 154.0 L254.8 153.0 L256.7 155.0 L258.4 153.5 L260.0 153.8 L261.7 151.7 L263.4 152.8 L265.0 153.3 L266.6 154.9 L268.3 157.5 L270.0 157.8 L271.6 158.5 L273.3 158.5 L275.0 160.0 L276.6 160.3 L278.3 158.3 L280.4 158.9 L282.5 161.7 L285.0 159.2 L286.7 159.4 L288.4 160.6 L290.0 160.2 L291.7 160.8 L293.4 162.1 L295.0 160.5 L296.7 162.5 L298.3 162.5 L300.0 161.7 L301.6 161.3 L303.3 160.0 L305.8 166.7 L307.9 165.1 L310.0 161.7 L311.7 162.0 L313.4 163.3 L315.0 163.6 L316.7 163.3 L318.4 162.1 L320.0 160.8 L321.7 160.7 L323.3 161.3 L325.0 160.6 L326.6 159.8 L328.3 160.8 L330.0 162.5 L331.6 162.5 L333.3 164.2 L335.0 163.5 L336.6 163.6 L338.3 161.5 L340.0 161.7 L342.1 158.5 L344.2 157.5 L346.1 157.4 L348.1 159.4 L350.0 160.0 L351.7 159.2 L353.4 158.6 L355.0 158.6 L356.7 158.3 L358.4 161.0 L360.0 161.7 L361.7 161.4 L363.3 162.0 L365.0 162.5 L366.6 167.2 L368.3 170.0 L370.0 166.9 L371.6 162.8 L373.3 160.0 L375.0 159.1 L376.6 158.3 L378.3 156.7 L380.0 156.7 L381.7 157.8 L383.3 159.0 L385.0 160.8 L386.7 160.2 L388.3 157.6 L390.0 156.7 L391.7 158.2 L393.3 160.0 L395.0 160.0 L396.7 161.0 L398.4 159.7 L400.0 160.2 L401.7 160.0 L403.8 160.0 L405.8 160.8 L407.5 166.7 L409.6 164.8 L411.7 163.3 L413.4 163.1 L415.0 162.8 L416.7 162.6 L418.3 162.4 L420.0 162.2 L421.6 161.9 L423.3 161.7 L425.4 165.0 L427.5 168.3 L430.0 165.0 L431.9 166.1 L433.8 166.9 L435.6 165.8 L437.5 166.7 L439.6 160.5 L441.7 156.7 L443.4 156.3 L445.0 155.0 L446.7 155.8 L448.4 153.3 L450.0 153.7 L451.7 151.7 L453.4 151.0 L455.0 152.6 L456.6 152.0 L458.3 152.5 L460.4 156.1 L462.5 157.5 L464.4 157.9 L466.2 155.6 L468.1 155.5 L470.0 155.8 L471.6 158.6 L473.3 159.2 L475.0 158.6 L476.6 157.3 L478.3 157.3 L480.0 155.8 L481.7 156.6 L483.4 155.8 L485.0 155.7 L486.7 155.8 L488.4 155.5 L490.0 156.7 L491.6 156.8 L493.3 158.3 L495.4 160.7 L497.5 162.5 L500.0 155.0 L501.6 156.5 L503.3 157.5 L505.0 156.6 L506.6 157.8 L508.3 156.5 L510.0 157.5 L511.7 157.6 L513.3 157.7 L515.0 157.8 L516.7 158.0 L518.4 158.1 L520.0 158.2 L521.7 158.3 L523.4 160.3 L525.0 164.2 L526.6 164.9 L528.3 165.0 L530.2 163.0 L532.0 162.2 L533.9 159.7 L535.8 157.5 L537.9 159.2 L540.0 160.0 L541.7 160.2 L543.3 163.0 L545.0 163.3 L546.6 159.4 L548.3 157.5 L550.0 157.0 L551.6 156.8 L553.3 155.0 L555.0 156.8 L556.6 157.6 L558.3 157.4 L560.0 158.3 L561.7 158.4 L563.3 158.4 L565.0 156.5 L566.6 158.1 L568.3 156.7 L570.0 157.7 L571.7 156.6 L573.3 157.4 L575.0 156.6 L576.7 156.7 L578.4 156.3 L580.0 157.5 L581.7 156.1 L583.4 158.0 L585.0 158.5 L586.7 157.5 L588.6 158.7 L590.6 161.9 L592.5 162.5 L594.2 165.8 L596.0 165.0 L597.8 167.0 L599.7 165.8 L601.5 167.6 L603.3 166.7 L605.0 167.3 L606.7 168.3 L608.4 168.5 L610.0 166.7 L611.7 166.4 L613.3 167.4 L615.0 169.2 L616.9 170.2 L618.8 169.9 L620.6 169.9 L622.5 170.0 L624.1 171.4 L625.8 175.0 L628.3 171.7 L630.0 170.9 L631.6 171.4 L633.3 170.6 L635.0 171.7 L636.7 173.1 L638.3 172.9 L640.0 172.5 L642.5 175.8 L644.6 175.2 L646.7 172.5 L648.4 173.2 L650.0 172.7 L651.7 173.3 L653.4 173.4 L655.0 176.1 L656.7 176.7 L658.4 174.6 L660.0 174.5 L661.7 173.3 L663.4 173.6 L665.0 174.1 L666.6 173.6 L668.3 175.0 L670.0 174.2 L671.6 175.6 L673.3 175.8 L675.4 175.9 L677.5 178.3 L680.0 174.2 L681.7 173.6 L683.4 172.1 L685.0 171.8 L686.7 171.7 L688.4 170.2 L690.0 170.6 L691.6 169.6 L693.3 169.2 L695.0 169.8 L696.7 171.7 L699.2 169.2 L701.7 174.2 L703.4 172.7 L705.0 172.7 L706.7 172.7 L708.3 170.6 L710.0 170.0 L711.7 169.6 L713.4 170.4 L715.0 170.7 L716.7 171.7 L718.4 172.1 L720.0 172.8 L721.6 172.5 L723.3 172.5 L725.0 170.7 L726.6 169.9 L728.3 169.2 L730.4 166.8 L732.5 165.0 L734.6 166.1 L736.7 167.5 L738.4 167.5 L740.0 169.2 L741.7 168.3 L743.3 170.8 L745.0 165.0 L747.1 163.9 L749.2 162.5 L750.9 160.8 L752.5 158.3 L754.1 160.1 L755.8 160.8 L757.9 160.3 L760.0 159.2 L761.7 159.8 L763.3 158.6 L765.0 159.1 L766.7 159.7 L768.3 157.6 L770.0 158.3 L771.7 157.6 L773.4 156.0 L775.0 154.2 L776.7 154.2 L778.4 152.9 L780.0 154.4 L781.6 152.6 L783.3 153.3 L785.0 151.7 L786.7 155.8 L788.4 154.3 L790.0 151.7 L791.7 149.3 L793.4 148.4 L795.0 146.2 L796.7 145.8 L798.8 144.7 L800.8 143.3 L802.9 141.1 L805.0 137.5 L806.6 141.4 L808.3 146.7 L810.8 141.7 L813.3 146.7 L815.0 145.2 L816.7 143.3 L818.4 145.1 L820.0 144.5 L821.7 145.8 L823.4 147.7 L825.0 150.3 L826.7 151.7 L828.4 153.9 L830.0 153.6 L831.7 155.8 L834.2 150.8 L836.7 155.8 L839.2 155.0 L841.2 157.0 L843.3 158.3 L845.0 158.2 L846.7 160.0 L849.2 165.0 L851.2 166.2 L853.3 169.2 L855.0 169.8 L856.6 167.0 L858.3 167.5 L860.0 169.8 L861.7 170.0 L863.4 169.2 L865.0 167.6 L866.7 165.8 L868.4 167.8 L870.0 169.0 L871.7 170.0 L873.4 170.1 L875.0 171.1 L876.6 171.2 L878.3 172.5 L880.0 174.2 L881.6 174.8 L883.3 175.0 L885.0 174.8 L886.7 173.3 L888.4 173.2 L890.0 174.8 L891.6 174.6 L893.3 175.8 L895.0 175.9 L896.6 176.0 L898.3 176.1 L900.0 176.2 L901.7 176.4 L903.4 176.5 L905.0 176.6 L906.7 176.7 L908.4 176.8 L910.0 176.9 L911.7 176.9 L913.3 177.0 L915.0 177.1 L916.7 177.2 L918.3 177.3 L920.0 177.3 L921.6 177.4 L923.3 177.5 L925.0 178.2 L926.6 178.1 L928.3 178.7 L930.0 177.5 L931.8 177.7 L933.5 177.9 L935.2 178.1 L937.0 178.3 L938.8 178.6 L940.5 178.8 L942.2 179.0 L944.0 179.2 L945.8 186.7 L947.9 185.9 L950.0 184.2 L951.6 183.4 L953.3 181.7 L955.0 184.0 L956.7 185.0 L958.4 181.5 L960.0 180.0 L961.7 180.2 L963.3 178.9 L965.0 180.0 L966.6 178.4 L968.3 177.5 L970.0 177.4 L971.6 180.2 L973.3 180.0 L975.0 179.0 L976.7 181.3 L978.3 181.6 L980.0 180.5 L981.7 180.8 L983.4 181.9 L985.0 180.4 L986.7 181.0 L988.3 181.0 L990.0 182.5 L991.6 183.1 L993.3 185.8 L995.0 184.4 L996.6 186.2 L998.3 184.2 L1000.0 185.0 L1001.7 185.8 L1003.3 185.6 L1005.0 186.7 L1006.6 183.7 L1008.3 182.5 L1010.0 184.4 L1011.7 186.7 L1013.4 185.4 L1015.0 186.7 L1016.7 185.0 L1018.4 184.5 L1020.0 184.8 L1021.6 184.6 L1023.3 184.2 L1025.0 184.7 L1026.7 184.6 L1028.3 184.2 L1030.0 185.0 L1031.7 185.0 L1033.3 187.6 L1035.0 187.5 L1036.7 186.1 L1038.3 186.1 L1040.0 186.4 L1041.7 185.0 L1043.4 185.4 L1045.0 186.6 L1046.7 185.8 L1048.3 187.0 L1050.0 186.7 L1051.7 186.2 L1053.3 187.5 L1055.0 188.3 L1056.7 188.7 L1058.3 190.2 L1060.0 190.0 L1062.1 189.2 L1064.2 188.3 L1066.7 187.5" fill="none" stroke="#2a825a" stroke-width="1.7" stroke-linejoin="round" stroke-linecap="round"/>
<line x1="256" y1="445" x2="277" y2="445" stroke="#e5ac3f" stroke-width="1.6"/>
<text x="287" y="450.3" font-size="17" font-weight="400" fill="#333" stroke="#333" stroke-width="0.7" textLength="112.5" lengthAdjust="spacingAndGlyphs">1wk ATM Vol</text>
<text x="405.0" y="450.3" font-size="17" fill="#707070" stroke="#707070" stroke-width="0.25" textLength="344.4" lengthAdjust="spacingAndGlyphs">Min: 57%, Max: 96%, Avg: 74%, Last: 79%</text>
<line x1="256" y1="472.2" x2="277" y2="472.2" stroke="#6f90c0" stroke-width="1.6"/>
<text x="287" y="477.5" font-size="17" font-weight="400" fill="#333" stroke="#333" stroke-width="0.7" textLength="121.6" lengthAdjust="spacingAndGlyphs">1mth ATM Vol</text>
<text x="414.1" y="477.5" font-size="17" fill="#707070" stroke="#707070" stroke-width="0.25" textLength="343.7" lengthAdjust="spacingAndGlyphs">Min: 72%, Max: 97%, Avg: 82%, Last: 83%</text>
<line x1="256" y1="498.8" x2="277" y2="498.8" stroke="#d0606c" stroke-width="1.6"/>
<text x="287" y="504.2" font-size="17" font-weight="400" fill="#333" stroke="#333" stroke-width="0.7" textLength="121.6" lengthAdjust="spacingAndGlyphs">3mth ATM Vol</text>
<text x="414.1" y="504.2" font-size="17" fill="#707070" stroke="#707070" stroke-width="0.25" textLength="353.9" lengthAdjust="spacingAndGlyphs">Min: 88%, Max: 105%, Avg: 93%, Last: 89%</text>
<line x1="256" y1="525.8" x2="277" y2="525.8" stroke="#3a9a78" stroke-width="1.6"/>
<text x="287" y="530.8" font-size="17" font-weight="400" fill="#333" stroke="#333" stroke-width="0.7" textLength="121.6" lengthAdjust="spacingAndGlyphs">6mth ATM Vol</text>
<text x="414.1" y="530.8" font-size="17" fill="#707070" stroke="#707070" stroke-width="0.25" textLength="354.8" lengthAdjust="spacingAndGlyphs">Min: 89%, Max: 110%, Avg: 97%, Last: 90%</text>
<g fill="none" stroke="#b8b8b8" stroke-width="1.1" stroke-linecap="round"><path d="M916 533 L918.5 529.5 A12 11.5 0 1 1 926.8 530.8 Q921 530 916 533 Z" fill="#fff"/><ellipse cx="938.4" cy="529.3" rx="12" ry="10.6" fill="#fff"/><path d="M944 538.5 L947 541" /></g>
<g fill="#aaa"><circle cx="920" cy="515" r="1.2"/><circle cx="930.8" cy="515" r="1.2"/><circle cx="934" cy="525" r="1.3"/><circle cx="942.5" cy="524.7" r="1.3"/></g>
<text x="957.9" y="537.9" font-size="26" fill="#8c8c8c" textLength="86.5" lengthAdjust="spacingAndGlyphs">Greeks</text>
<text x="958.9" y="536.9" font-size="26" fill="#fdfdfd" stroke="#cfcfcf" stroke-width="0.4" textLength="86.5" lengthAdjust="spacingAndGlyphs">Greeks</text>
</svg></body></html>
